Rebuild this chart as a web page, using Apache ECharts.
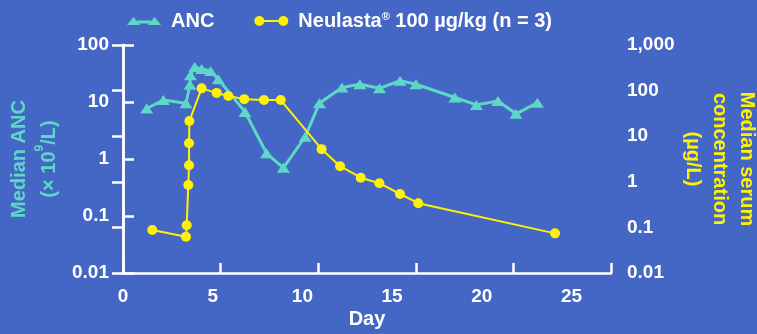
<!DOCTYPE html>
<html>
<head>
<meta charset="utf-8">
<script src="https://cdn.jsdelivr.net/npm/echarts@6/dist/echarts.min.js"></script>
<style>
  html, body { margin: 0; padding: 0; background: #4466c4; }
  #chart { width: 757px; height: 334px; }
</style>
</head>
<body>
<div id="chart"></div>
<script>
// ANC (left axis)
const ancDays = [1.32, 2.25, 3.51, 3.73, 3.76, 4.0, 4.38, 4.88, 5.31, 6.8, 8.0, 8.94, 10.15, 10.95, 12.2, 13.2, 14.3, 15.44, 16.33, 18.5, 19.7, 20.9, 21.9, 23.1];
const ancValues = [7.7, 10.8, 9.5, 20, 29.5, 41, 38, 35, 25, 6.7, 1.26, 0.7, 2.45, 9.5, 18, 20.5, 17.4, 23.7, 20.5, 12, 8.9, 10.4, 6.2, 9.7];

// Neulasta serum concentration (right axis)
const pkDays = [1.63, 3.51, 3.55, 3.64, 3.68, 3.68, 3.7, 4.38, 5.22, 5.87, 6.76, 7.86, 8.79, 11.07, 12.1, 13.25, 14.29, 15.44, 16.46, 24.08];
const pkValues = [0.088, 0.0625, 0.111, 0.85, 2.3, 7, 21.5, 112, 89, 76, 65, 62, 62, 5.2, 2.2, 1.23, 0.93, 0.54, 0.34, 0.074];

const dayLabels = [0, 5, 10, 15, 20, 25];

const teal = '#5ed8c6';
const yellow = '#fff200';
const white = '#ffffff';
const font = 'Liberation Sans, Arial, sans-serif';

const chart = echarts.init(document.getElementById('chart'), null, { renderer: 'canvas' });

function pairs(xs, ys) {
  return xs.map(function (x, i) { return [x, ys[i]]; });
}

function numLabel(v) {
  return Number(v.toPrecision(3)).toLocaleString('en-US');
}

const option = {
  backgroundColor: '#4466c4',
  animation: false,
  textStyle: { fontFamily: font },
  legend: {
    left: 122,
    top: 6,
    itemGap: 40,
    itemWidth: 34,
    itemHeight: 10,
    itemStyle: { borderWidth: 0 },
    textStyle: {
      color: white, fontSize: 20, fontWeight: 'bold', fontFamily: font,
      padding: [0, 0, 0, 5],
      rich: {
        n: { color: white, fontSize: 20, fontWeight: 'bold', fontFamily: font },
        r: { color: white, fontSize: 11, fontWeight: 'bold', fontFamily: font, verticalAlign: 'top', padding: [0, 0, 8, 0] }
      }
    },
    formatter: function (name) {
      if (name === 'ANC') return name;
      return '{n|Neulasta}{r|®}{n| 100 µg/kg (n = 3)}';
    },
    data: [
      { name: 'ANC', icon: 'path://M0,10 L6.5,2 L13,10 Z M10,5.5 L24,5.5 L24,8.5 L10,8.5 Z M21,10 L27.5,2 L34,10 Z' },
      { name: 'Neulasta', icon: 'path://M0,5 A5,5 0 1,1 10,5 A5,5 0 1,1 0,5 Z M8,4 L26,4 L26,6 L8,6 Z M24,5 A5,5 0 1,1 34,5 A5,5 0 1,1 24,5 Z' }
    ]
  },
  grid: { left: 123, right: 146, top: 45, bottom: 61, outerBoundsMode: 'none', containLabel: false },
  xAxis: [
    {
      type: 'value',
      min: 0,
      max: 27.2,
      interval: 5,
      name: 'Day',
      nameLocation: 'middle',
      nameGap: 36,
      nameMoveOverlap: false,
      nameTextStyle: { color: white, fontSize: 20, fontWeight: 'bold', fontFamily: font },
      axisLine: { show: true, lineStyle: { color: white, width: 2.5 } },
      axisTick: { show: false },
      splitLine: { show: false },
      axisLabel: {
        color: white, fontSize: 19, fontWeight: 'bold', fontFamily: font, margin: 14,
        formatter: function (v) { return dayLabels.indexOf(v) >= 0 ? String(v) : ''; }
      }
    },
    {
      // tick marks only
      type: 'value',
      position: 'bottom',
      min: 0,
      max: 25,
      interval: 5,
      axisLine: { show: false },
      axisTick: { show: true, inside: true, length: 10, lineStyle: { color: white, width: 2.5 } },
      axisLabel: { show: false },
      splitLine: { show: false }
    }
  ],
  yAxis: [
    {
      type: 'log',
      logBase: 10,
      min: 0.01,
      max: 100,
      position: 'left',
      name: '{a|Median ANC}\n{a|(× 10}{s|9}{a|/L)}',
      nameLocation: 'middle',
      nameGap: 59,
      nameMoveOverlap: false,
      nameRotate: 90,
      nameTextStyle: {
        color: teal, fontSize: 20, fontWeight: 'bold', fontFamily: font, lineHeight: 30,
        rich: {
          a: { color: teal, fontSize: 20, fontWeight: 'bold', fontFamily: font, lineHeight: 30 },
          s: { color: teal, fontSize: 12, fontWeight: 'bold', fontFamily: font, verticalAlign: 'top', lineHeight: 30, padding: [0, 0, 10, 0] }
        }
      },
      axisLine: { show: true, lineStyle: { color: white, width: 2.5 } },
      axisTick: { show: true, inside: true, length: 11, lineStyle: { color: white, width: 2.5 } },
      splitLine: { show: false },
      axisLabel: { color: white, fontSize: 19, fontWeight: 'bold', fontFamily: font, margin: 14, formatter: numLabel }
    },
    {
      type: 'log',
      logBase: 10,
      min: 0.01,
      max: 1000,
      position: 'right',
      name: 'Median serum\nconcentration\n(µg/L)',
      nameLocation: 'middle',
      nameGap: 68,
      nameMoveOverlap: false,
      nameRotate: -90,
      nameTextStyle: { color: yellow, fontSize: 20, fontWeight: 'bold', fontFamily: font, lineHeight: 27 },
      axisLine: { show: true, lineStyle: { color: white, width: 2.5 } },
      axisTick: { show: true, inside: true, length: 11, lineStyle: { color: white, width: 2.5 } },
      splitLine: { show: false },
      axisLabel: { color: white, fontSize: 19, fontWeight: 'bold', fontFamily: font, margin: 16, formatter: numLabel }
    }
  ],
  series: [
    {
      name: 'ANC',
      type: 'line',
      xAxisIndex: 0,
      yAxisIndex: 0,
      symbol: 'triangle',
      symbolSize: [13, 10],
      lineStyle: { color: teal, width: 3 },
      itemStyle: { color: teal, borderWidth: 0 },
      data: pairs(ancDays, ancValues)
    },
    {
      name: 'Neulasta',
      type: 'line',
      xAxisIndex: 0,
      yAxisIndex: 1,
      symbol: 'circle',
      symbolSize: 10,
      lineStyle: { color: yellow, width: 2 },
      itemStyle: { color: yellow, borderWidth: 0 },
      data: pairs(pkDays, pkValues)
    }
  ]
};

chart.setOption(option);
</script>
</body>
</html>
